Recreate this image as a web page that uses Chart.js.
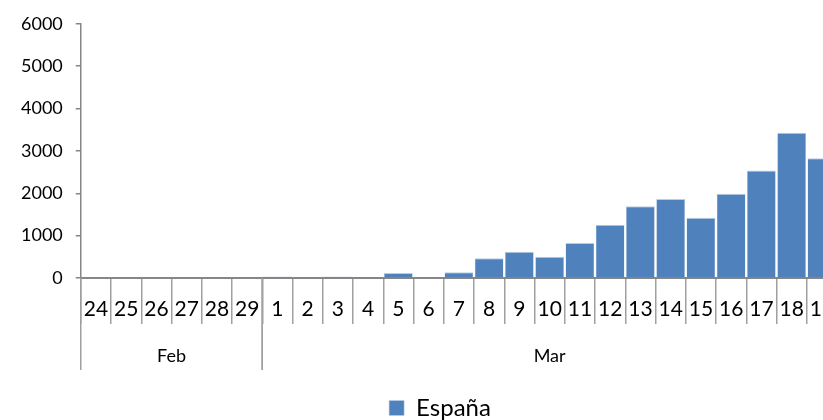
<!DOCTYPE html>
<html>
<head>
<meta charset="utf-8">
<script src="https://cdn.jsdelivr.net/npm/chart.js@4"></script>
<style>
  html, body { margin: 0; padding: 0; background: #fff; overflow: hidden; }
  #wrap { width: 880px; height: 430px; }
</style>
</head>
<body>
<div id="wrap"><canvas id="chart"></canvas></div>
<script>
const days = ["24", "25", "26", "27", "28", "29", "1", "2", "3", "4", "5", "6", "7", "8", "9",
  "10", "11", "12", "13", "14", "15", "16", "17", "18", "19"];
const months = ["Feb", "Mar"];
const monthSpans = [6, 19];
const espana = [0, 0, 0, 0, 0, 0, 35, 25, 35, 25, 117, 0, 135, 467, 617, 500, 827, 1255,
  1692, 1862, 1425, 1986, 2540, 3428, 2827];
const yTicks = [0, 1000, 2000, 3000, 4000, 5000, 6000];

const axisColor = "#868686";
const font = "Lato";

// second row of the category axis: month names with separators
const monthRow = {
  id: "monthRow",
  afterDraw(chart) {
    const ctx = chart.ctx;
    const x = chart.scales.x;
    const half = (x.getPixelForValue(1) - x.getPixelForValue(0)) / 2;
    const top = x.top;
    const bottom = x.top + 92;
    ctx.save();
    ctx.strokeStyle = "#a0a0a0";
    ctx.lineWidth = 1.5;
    ctx.fillStyle = "#000";
    ctx.font = "18px " + font;
    ctx.textAlign = "center";
    ctx.textBaseline = "middle";
    let start = 0;
    months.forEach((m, i) => {
      const end = start + monthSpans[i] - 1;
      const x0 = x.getPixelForValue(start) - half;
      const x1 = x.getPixelForValue(end) + half;
      [x0, x1].forEach(px => {
        ctx.beginPath();
        ctx.moveTo(px, top);
        ctx.lineTo(px, bottom);
        ctx.stroke();
      });
      ctx.fillText(m, (x0 + x1) / 2, top + 78);
      start = end + 1;
    });
    ctx.restore();
  }
};

new Chart(document.getElementById("chart"), {
  type: "bar",
  data: {
    labels: days,
    datasets: [{
      label: "España",
      data: espana,
      backgroundColor: "#4f81bd",
      borderColor: "#b9cde5",
      borderWidth: { top: 1, left: 0.5, right: 0.5, bottom: 0 },
      barPercentage: 0.95,
      categoryPercentage: 1
    }]
  },
  options: {
    responsive: true,
    maintainAspectRatio: false,
    animation: false,
    layout: { padding: { top: 6, right: 8, left: 8, bottom: 0 } },
    scales: {
      x: {
        grid: {
          offset: true,
          drawOnChartArea: false,
          tickLength: 46,
          color: "#a0a0a0",
          lineWidth: 1.5
        },
        border: { color: axisColor, width: 2 },
        ticks: {
          color: "#000",
          font: { family: font, size: 21 },
          padding: -27,
          maxRotation: 0,
          autoSkip: false
        },
        afterFit(axis) { axis.height = 118; }
      },
      y: {
        min: 0,
        max: 6000,
        afterBuildTicks(axis) { axis.ticks = yTicks.map(v => ({ value: v })); },
        grid: {
          drawOnChartArea: false,
          tickLength: 5,
          color: axisColor,
          lineWidth: 1.5
        },
        border: { color: axisColor, width: 1.5 },
        ticks: {
          color: "#000",
          font: { family: font, size: 18 },
          padding: 13,
          callback: v => String(v)
        }
      },
      // empty right-hand strip so the legend stays centred on the full width
      spacer: {
        position: "right",
        grid: { display: false },
        border: { display: false },
        ticks: { display: false },
        afterFit(axis) { axis.width = 35; }
      }
    },
    plugins: {
      legend: {
        position: "bottom",
        labels: {
          color: "#000",
          font: { family: font, size: 24 },
          boxWidth: 15,
          boxHeight: 15,
          padding: 0
        }
      },
      tooltip: { enabled: false }
    }
  },
  plugins: [monthRow]
});
</script>
</body>
</html>
